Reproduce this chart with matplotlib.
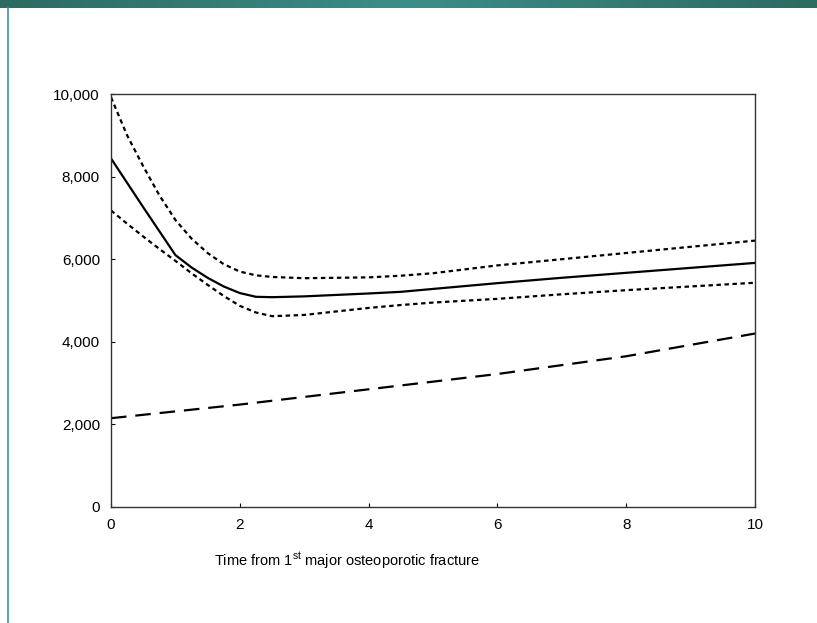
import matplotlib
matplotlib.use("Agg")
import matplotlib.pyplot as plt
import numpy as np
from matplotlib.ticker import FuncFormatter

plt.rcParams['font.family'] = ['Liberation Sans', 'DejaVu Sans']
plt.rcParams['mathtext.fontset'] = 'custom'
plt.rcParams['mathtext.rm'] = 'Liberation Sans'

# data
years = [0, 0.25, 0.5, 0.75, 1, 1.25, 1.5, 1.75, 2, 2.25, 2.5, 3, 4, 4.5,
         5, 6, 7, 8, 9, 10]
estimate = [8440, 7850, 7260, 6680, 6100, 5800, 5550, 5340, 5180, 5090,
            5080, 5100, 5170, 5210, 5280, 5420, 5550, 5670, 5790, 5910]
upper_ci = [9920, 9000, 8250, 7550, 6950, 6500, 6150, 5880, 5700, 5610,
            5570, 5540, 5560, 5600, 5660, 5850, 6000, 6150, 6300, 6450]
lower_ci = [7180, 6860, 6550, 6250, 5960, 5660, 5380, 5110, 4870, 4710,
            4620, 4650, 4820, 4890, 4950, 5040, 5150, 5250, 5340, 5430]
ref_years = [0, 2, 4, 6, 8, 10]
reference = [2150, 2480, 2850, 3220, 3650, 4200]

fig = plt.figure(figsize=(8.17, 6.23), dpi=100)

# teal header strip
hdr = fig.add_axes([0, 1 - 8 / 623, 1, 8 / 623])
grad = np.linspace(0, 1, 400)
c_edge = np.array([0x2b, 0x6b, 0x61]) / 255
c_mid = np.array([0x3b, 0x8e, 0x87]) / 255
w = 1 - np.abs(grad - 0.5) * 2
img = (c_edge[None, :] * (1 - w[:, None]) + c_mid[None, :] * w[:, None])[None, :, :]
hdr.imshow(img, aspect='auto', extent=[0, 1, 0, 1])
hdr.axis('off')

# left teal rule
fig.add_artist(plt.Line2D([7.5 / 817, 7.5 / 817], [0, 1 - 8 / 623],
                          transform=fig.transFigure, color='#3a9b95', lw=1.2))

ax = fig.add_axes([111 / 817, 116 / 623, 644 / 817, 413 / 623])

ax.plot(years, upper_ci, color='black', lw=1.6, linestyle=(0, (2, 1.6)))
ax.plot(years, estimate, color='black', lw=1.6, linestyle='-')
ax.plot(years, lower_ci, color='black', lw=1.6, linestyle=(0, (2, 1.6)))
ax.plot(ref_years, reference, color='black', lw=1.6, linestyle=(0, (7, 4)))

ax.set_xlim(0, 10)
ax.set_ylim(0, 10000)
ax.set_xticks([0, 2, 4, 6, 8, 10])
ax.set_yticks([0, 2000, 4000, 6000, 8000, 10000])
ax.yaxis.set_major_formatter(FuncFormatter(lambda v, p: f"{int(v):,}"))
ax.tick_params(direction='in', length=3, width=0.8, labelsize=11, colors='black', pad=8)
for s in ax.spines.values():
    s.set_color('#333333')
    s.set_linewidth(1.0)

ax.set_xlabel(r"Time from 1$^{\mathrm{st}}$ major osteoporotic fracture",
              fontsize=10.5, color='black')
ax.xaxis.set_label_coords(0.366, -0.105)

fig.savefig("out.png", dpi=100, facecolor='white')
